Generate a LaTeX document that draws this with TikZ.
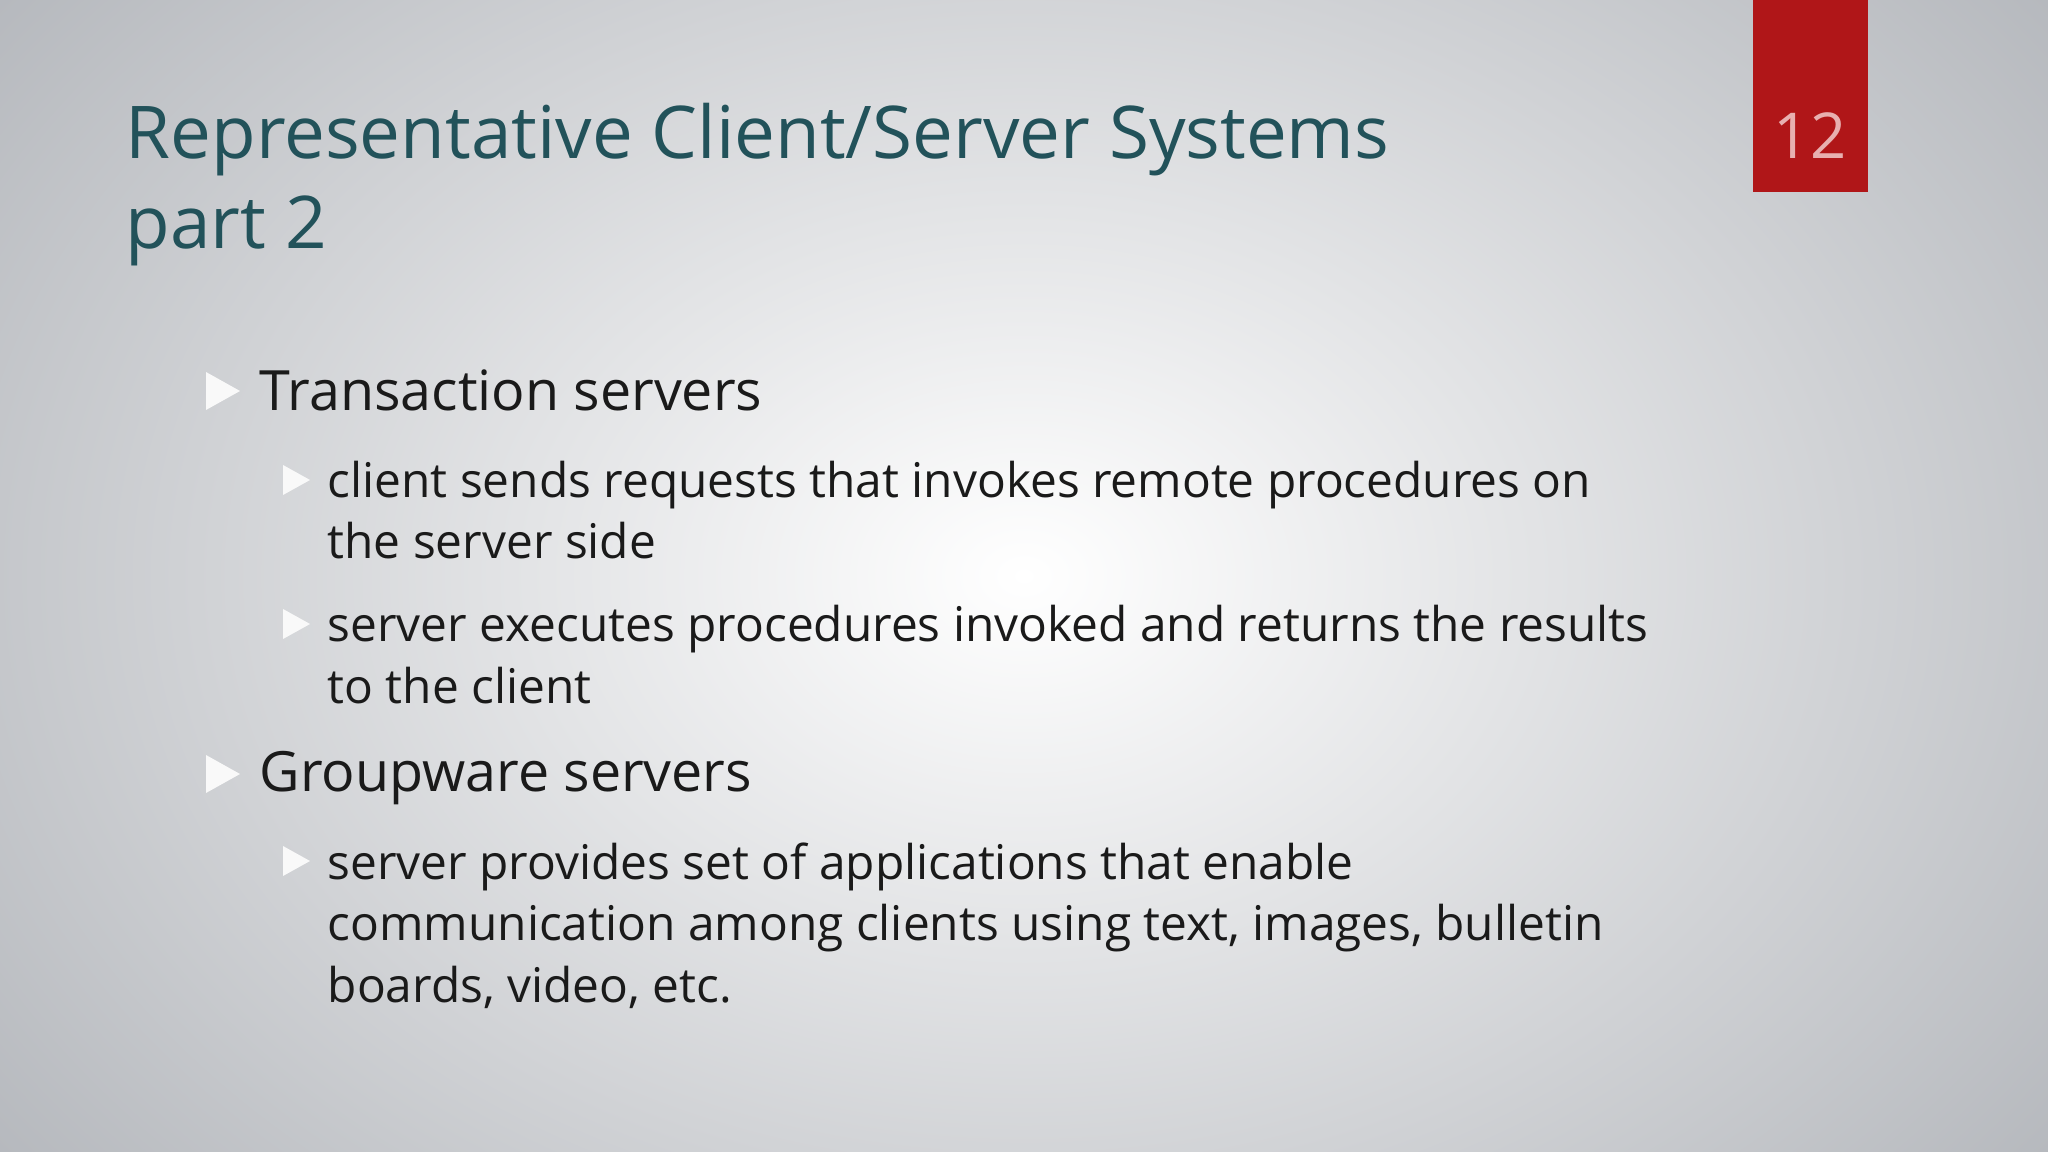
\documentclass[tikz,border=0pt]{standalone}
\usepackage{fontspec}
\setmainfont{Open Sans}
\definecolor{titlec}{HTML}{22525A}
\definecolor{bodyc}{HTML}{1A1A1A}
\definecolor{redbox}{HTML}{B01618}
\definecolor{edge}{HTML}{B4B7BC}
\definecolor{numc}{HTML}{E8B0B0}
\begin{document}
\begin{tikzpicture}[x=0.01cm,y=-0.01cm,
  title/.style={anchor=base west,text=titlec,font=\fontsize{20.7}{25}\selectfont,inner sep=0},
  lvlone/.style={anchor=base west,text=bodyc,font=\fontsize{15.8}{19}\selectfont,inner sep=0},
  lvltwo/.style={anchor=base west,text=bodyc,font=\fontsize{13.6}{16}\selectfont,inner sep=0},
  tri/.style={fill=white!95!gray,draw=none}]
\useasboundingbox (0,0) rectangle (2048,1152);
\fill[edge] (0,0) rectangle (2048,1152);
\shade[inner color=white,outer color=edge] (-300,-400) rectangle (2348,1552);
\fill[redbox] (1753,0) rectangle (1868,192);
\node[text=numc,font=\fontsize{18}{22}\selectfont] (num) at (1810,136) {12};
\node[title] (t1) at (125,159) {Representative Client/Server Systems};
\node[title] (t2) at (125,249) {part 2};
% bullets
\fill[tri] (206,372) -- (240,391) -- (206,410) -- cycle;
\node[lvlone] (b1) at (259,411) {Transaction servers};
\fill[tri] (283,465) -- (310,480) -- (283,495) -- cycle;
\node[lvltwo] (s1a) at (327,498) {client sends requests that invokes remote procedures on};
\node[lvltwo] (s1b) at (327,559) {the server side};
\fill[tri] (283,609) -- (310,624) -- (283,639) -- cycle;
\node[lvltwo] (s2a) at (327,641) {server executes procedures invoked and returns the results};
\node[lvltwo] (s2b) at (327,703) {to the client};
\fill[tri] (206,755) -- (240,774) -- (206,793) -- cycle;
\node[lvlone] (b2) at (259,791) {Groupware servers};
\fill[tri] (283,846) -- (310,861) -- (283,876) -- cycle;
\node[lvltwo] (s3a) at (327,879) {server provides set of applications that enable};
\node[lvltwo] (s3b) at (327,940) {communication among clients using text, images, bulletin};
\node[lvltwo] (s3c) at (327,1002) {boards, video, etc.};
\end{tikzpicture}
\end{document}
